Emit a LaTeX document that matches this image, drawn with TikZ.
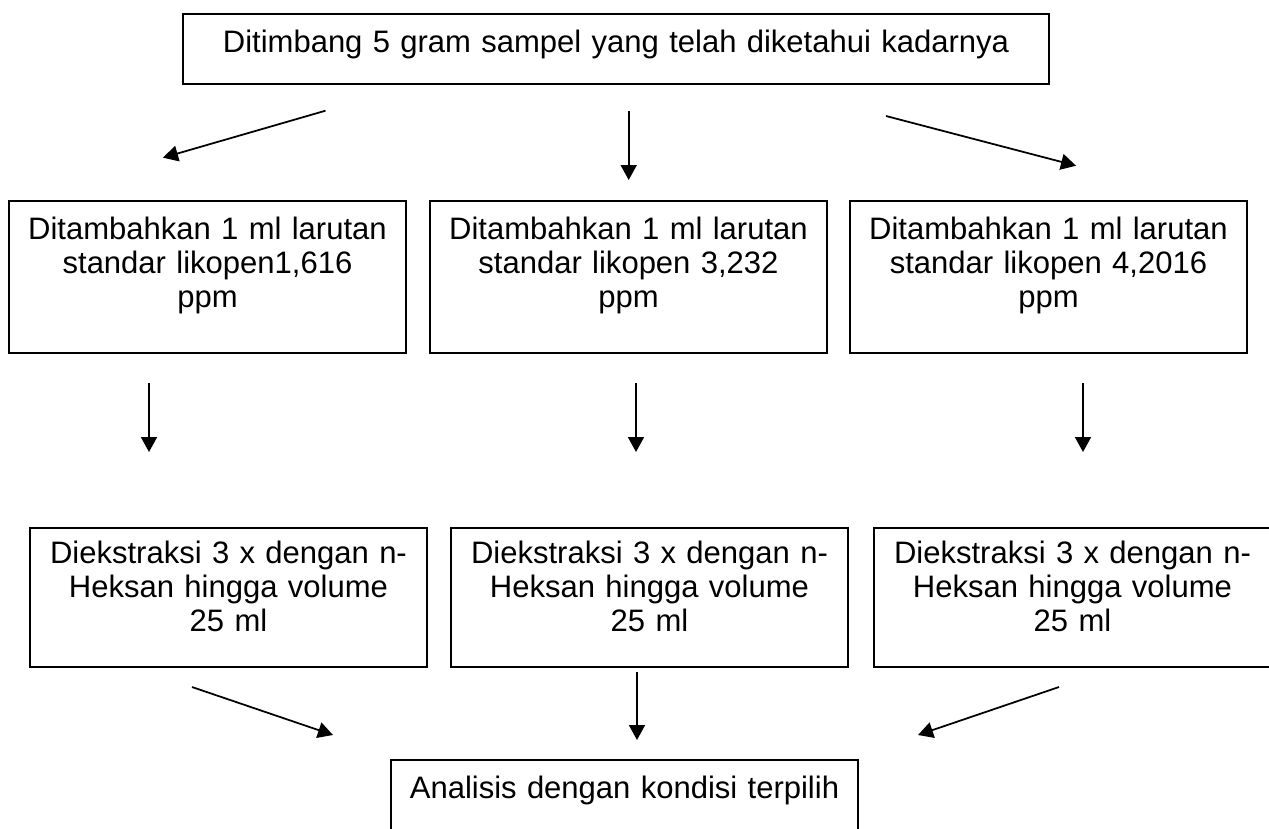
\documentclass[tikz,border=0pt]{standalone}
\usepackage{fontspec}
\setmainfont{Liberation Sans}
\usetikzlibrary{positioning,arrows.meta}

\tikzset{
  stepbox/.style={draw, line width=1.1pt, anchor=north west, inner sep=0pt,
    text width=#1, align=center},
  flow/.style={-{Triangle[length=3mm,width=3.2mm]}, line width=1pt}
}

\begin{document}
\begin{tikzpicture}[font=\fontsize{17.65pt}{19.35pt}\selectfont]
  \useasboundingbox (0,0) rectangle (25.38,-16.56);
  \node[stepbox=17.32cm, text height=0.78cm, text depth=0.62cm] (top) at (3.64,-0.26)
    {Ditimbang 5 gram sampel yang telah diketahui kadarnya};
  % penambahan standar
  \node[stepbox=7.94cm, text height=0.78cm, text depth=2.26cm] (std1) at (0.16,-4.00)
    {Ditambahkan 1 ml larutan\\standar likopen1,616\\ppm};
  \node[stepbox=7.94cm, text height=0.78cm, text depth=2.26cm] (std2) at (8.58,-4.00)
    {Ditambahkan 1 ml larutan\\standar likopen 3,232\\ppm};
  \node[stepbox=7.94cm, text height=0.78cm, text depth=2.26cm] (std3) at (16.98,-4.00)
    {Ditambahkan 1 ml larutan\\standar likopen 4,2016\\ppm};
  % ekstraksi
  \foreach \i/\x in {1/0.58, 2/9.00, 3/17.46}
    \node[stepbox=7.94cm, text height=0.72cm, text depth=2.06cm] (ext\i) at (\x,-10.54)
      {Diekstraksi 3 x dengan n-\\Heksan hingga volume\\25 ml};
  \node[stepbox=9.34cm, text height=0.78cm, text depth=1.5cm] (fin) at (7.80,-15.18)
    {Analisis dengan kondisi terpilih};
  % panah
  \foreach \sx/\sy/\ex/\ey [count=\n] in {6.51/-2.214/3.26/-3.154, 12.574/-2.22/12.574/-3.60,
      17.72/-2.32/21.52/-3.314, 2.98/-7.66/2.98/-9.04, 12.72/-7.66/12.72/-9.04,
      21.66/-7.66/21.66/-9.04, 3.84/-13.74/6.66/-14.70, 12.74/-13.44/12.74/-14.80,
      21.18/-13.74/18.36/-14.70} {
    \coordinate (s\n) at (\sx,\sy);
    \coordinate (e\n) at (\ex,\ey);
    \draw[flow] (s\n) -- (e\n);
  }
\end{tikzpicture}
\end{document}
